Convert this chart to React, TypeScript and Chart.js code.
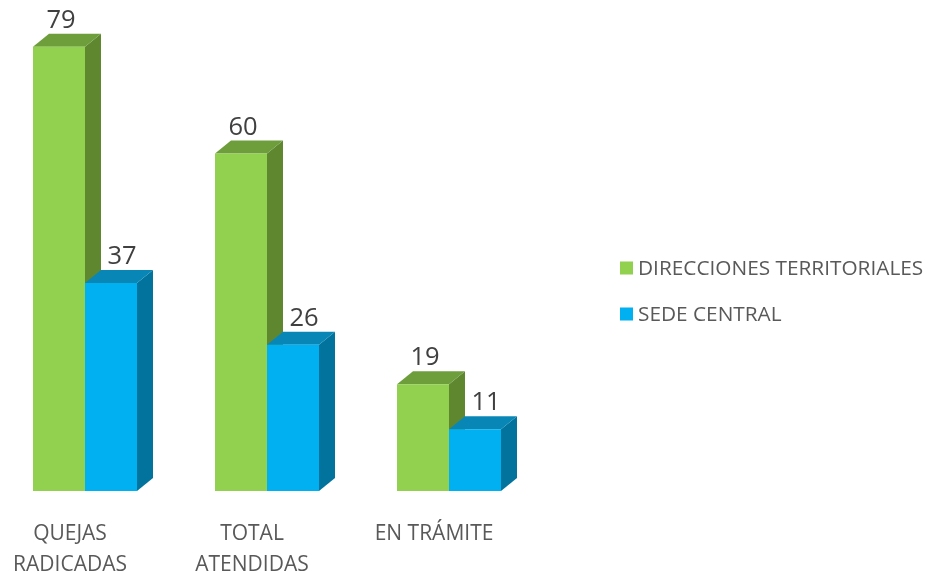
import React, { useEffect, useRef } from "react";
import { Chart, registerables } from "chart.js";

Chart.register(...registerables);

const categories: (string | string[])[] = [["QUEJAS", "RADICADAS"], ["TOTAL", "ATENDIDAS"], "EN TRÁMITE"];
const seriesNames = ["DIRECCIONES TERRITORIALES", "SEDE CENTRAL"];
const direccionesTerritoriales = [79, 60, 19];
const sedeCentral = [37, 26, 11];

const FRONT = ["#92D050", "#00B0F0"];
const TOP = ["#6E9E3C", "#0887B7"];
const SIDE = ["#5E8730", "#02739C"];
const LABEL_SHIFT = [2, 11];
const DX = 16;
const DY = 13;
const FONT = "'Open Sans', 'DejaVu Sans', sans-serif";

const bar3d = {
  id: "bar3d",
  beforeDatasetsDraw(chart: any) {
    const ctx = chart.ctx;
    const n = chart.data.labels.length;
    ctx.save();
    for (let i = 0; i < n; i++) {
      chart.data.datasets.forEach((_: any, d: number) => {
        const meta = chart.getDatasetMeta(d);
        const el = meta.data[i];
        if (!el) return;
        const { x, y, base, width } = el.getProps(["x", "y", "base", "width"], true);
        const l = x - width / 2;
        const r = x + width / 2;
        ctx.fillStyle = SIDE[d];
        ctx.beginPath();
        ctx.moveTo(r, y);
        ctx.lineTo(r + DX, y - DY);
        ctx.lineTo(r + DX, base - DY);
        ctx.lineTo(r, base);
        ctx.closePath();
        ctx.fill();
        ctx.fillStyle = TOP[d];
        ctx.beginPath();
        ctx.moveTo(l, y);
        ctx.lineTo(r, y);
        ctx.lineTo(r + DX, y - DY);
        ctx.lineTo(l + DX, y - DY);
        ctx.closePath();
        ctx.fill();
      });
    }
    ctx.restore();
  },
  afterDatasetsDraw(chart: any) {
    const ctx = chart.ctx;
    ctx.save();
    ctx.font = `25.5px ${FONT}`;
    ctx.fillStyle = "#404040";
    ctx.textAlign = "center";
    ctx.textBaseline = "alphabetic";
    chart.data.datasets.forEach((ds: any, d: number) => {
      const meta = chart.getDatasetMeta(d);
      meta.data.forEach((el: any, i: number) => {
        const { x, y } = el.getProps(["x", "y"], true);
        ctx.fillText(String(ds.data[i]), x + LABEL_SHIFT[d], y - DY - 6);
      });
    });
    ctx.restore();
  },
  afterDraw(chart: any) {
    const ctx = chart.ctx;
    ctx.save();
    ctx.font = `20.8px ${FONT}`;
    ctx.textAlign = "left";
    ctx.textBaseline = "middle";
    const lx = 620;
    const ly = 268;
    const step = 46;
    seriesNames.forEach((name, d) => {
      const cy = ly + d * step;
      ctx.fillStyle = FRONT[d];
      ctx.fillRect(lx, cy - 6.5, 13, 13);
      ctx.fillStyle = "#595959";
      ctx.fillText(name, lx + 18, cy + 1);
    });
    ctx.restore();
  },
};

export default function App() {
  const ref = useRef<HTMLCanvasElement | null>(null);
  useEffect(() => {
    if (!ref.current) return;
    const chart = new Chart(ref.current, {
      type: "bar",
      data: {
        labels: categories,
        datasets: [
          {
            label: seriesNames[0],
            data: direccionesTerritoriales,
            backgroundColor: FRONT[0],
            borderWidth: 0,
            clip: false as any,
          },
          {
            label: seriesNames[1],
            data: sedeCentral,
            backgroundColor: FRONT[1],
            borderWidth: 0,
            clip: false as any,
          },
        ],
      },
      options: {
        animation: false,
        responsive: false,
        devicePixelRatio: 1,
        datasets: { bar: { barPercentage: 1, categoryPercentage: 104 / 182 } },
        layout: { padding: { left: 85, right: 479, top: 41, bottom: 0 } },
        plugins: { legend: { display: false }, tooltip: { enabled: false } },
        scales: {
          x: {
            offset: false,
            grid: { display: false, drawTicks: false },
            border: { display: false },
            ticks: {
              labelOffset: -15,
              padding: 28,
              color: "#595959",
              maxRotation: 0,
              autoSkip: false,
              font: { family: FONT, size: 21, lineHeight: 1.45 },
            },
            afterFit: (scale: any) => {
              scale.height = 82;
            },
          },
          y: {
            display: false,
            min: 0,
            max: 80,
          },
        },
      },
      plugins: [bar3d],
    });
    return () => chart.destroy();
  }, []);
  return (
    <div style={{ position: "absolute", left: 0, top: 0, width: 928, height: 573, background: "#fff" }}>
      <canvas ref={ref} width={928} height={573} style={{ display: "block" }} />
    </div>
  );
}
